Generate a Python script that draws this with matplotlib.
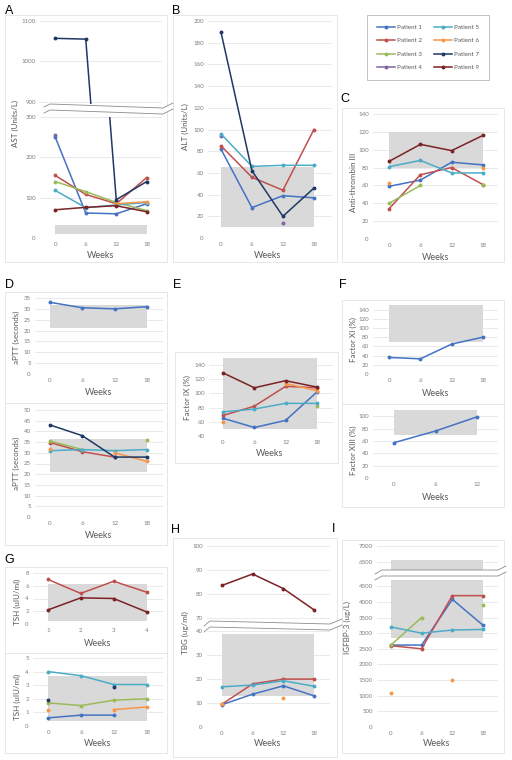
import numpy as np
import matplotlib
matplotlib.use('Agg')
import matplotlib.pyplot as plt
from matplotlib.lines import Line2D
from matplotlib.patches import Rectangle, Polygon

plt.rcParams['font.family'] = ['Lato', 'DejaVu Sans']

nan = np.nan
weeks = [0, 6, 12, 18]
weeks_xiii = [0, 6, 12]
tsh_x = [1, 2, 3, 4]

# A - AST (Units/L)
ast = {
    'Patient 1': [250, 62, 60, 85],
    'Patient 2': [155, 108, 85, 150],
    'Patient 3': [140, 115, 88, 68],
    'Patient 4': [255, nan, nan, nan],
    'Patient 5': [118, 75, 82, 88],
    'Patient 6': [nan, nan, 85, 90],
    'Patient 7': [1057, 1055, 95, 140],
    'Patient 9': [70, 76, 80, 65],
}
ast_range = [10, 33]

# B - ALT (Units/L)
alt = {
    'Patient 1': [82, 28, 39, 37],
    'Patient 2': [85, 56, 44, 100],
    'Patient 4': [94, nan, 14, nan],
    'Patient 5': [96, 66, 67, 67],
    'Patient 7': [190, 62, 20, 46],
}
alt_range = [10, 65]

# C - Anti-thrombin III
at3 = {
    'Patient 1': [59, 66, 86, 83],
    'Patient 2': [34, 72, 80, 61],
    'Patient 3': [40, 60, nan, 60],
    'Patient 5': [81, 88, 74, 74],
    'Patient 6': [63, nan, nan, 79],
    'Patient 9': [87, 106, 99, 116],
}
at3_range = [79, 120]

# D - aPTT (seconds)
aptt_top = {'Patient 1': [33, 30.5, 30, 31]}
aptt_bottom = {
    'Patient 2': [34.8, 30.5, 28, nan],
    'Patient 3': [35.5, 31.5, nan, 35.8],
    'Patient 5': [31, 31.5, 31, 31.5],
    'Patient 6': [32, nan, 30, 26],
    'Patient 7': [43, 38, 28, 28],
}
aptt_range = [21, 32]
aptt_range2 = [21, 36.5]

# E - Factor IX (%)
f9 = {
    'Patient 1': [65, 52, 62, 102],
    'Patient 2': [69, 82, 110, 108],
    'Patient 3': [nan, nan, nan, 83],
    'Patient 5': [74, 78, 86, 86],
    'Patient 6': [60, nan, 114, 104],
    'Patient 9': [129, 108, 118, 109],
}
f9_range = [50, 150]

# F - Factor XI / XIII (%)
f11 = {'Patient 1': [36, 33, 65, 80]}
f11_range = [70, 150]
f13 = {'Patient 1': [57, 76, 99]}
f13_range = [70, 110]

# G - TSH (uIU/ml)
tsh_top = {'Patient 2': [7, 4.8, 6.7, 5], 'Patient 9': [2.2, 4.1, 4, 1.9]}
tsh_range = [0.5, 6.3]
tsh_bottom = {
    'Patient 1': [0.6, 0.8, 0.8, nan],
    'Patient 3': [1.7, 1.5, 1.9, 2.0],
    'Patient 5': [4.0, 3.7, 3.05, 3.05],
    'Patient 6': [1.2, nan, 1.2, 1.4],
    'Patient 7': [1.9, nan, 2.9, nan],
}
tsh_range2 = [0.4, 3.7]

# H - TBG (ug/ml)
tbg = {
    'Patient 1': [9.3, 13.7, 17.2, 13],
    'Patient 2': [9.5, 18, 20, 20],
    'Patient 5': [16.8, 17.5, 19.3, 17],
    'Patient 6': [9.5, nan, 12, nan],
    'Patient 9': [83.5, 88.3, 82.2, 73.3],
}
tbg_range = [12.8, 39]

# I - IGFBP-3 (ug/L)
igfbp3 = {
    'Patient 1': [2620, 2620, 4080, 3250],
    'Patient 2': [2600, 2500, 4200, 4200],
    'Patient 3': [2620, 3500, nan, 3900],
    'Patient 5': [3200, 3000, 3100, 3120],
    'Patient 6': [1100, nan, 1500, nan],
}
igfbp3_range = [2850, 6550]

patients = ['Patient 1', 'Patient 2', 'Patient 3', 'Patient 4',
            'Patient 5', 'Patient 6', 'Patient 7', 'Patient 9']
colors = {
    'Patient 1': '#4472C4', 'Patient 2': '#C0504D', 'Patient 3': '#9BBB59',
    'Patient 4': '#8064A2', 'Patient 5': '#4BACC6', 'Patient 6': '#F79646',
    'Patient 7': '#1F3864', 'Patient 9': '#7B2226',
}

W, H = 512, 760
fig = plt.figure(figsize=(W / 100, H / 100), dpi=100)
fig.patch.set_facecolor('white')


def px_axes(x0, y0, x1, y1):
    return fig.add_axes([x0 / W, 1 - y1 / H, (x1 - x0) / W, (y1 - y0) / H])


def style(ax, xlim, ylim, yticks, xticks=weeks, xlabels=True):
    ax.set_xlim(xlim)
    ax.set_ylim(ylim)
    ax.set_yticks(yticks)
    ax.set_xticks(xticks)
    for s in ax.spines.values():
        s.set_visible(False)
    ax.tick_params(length=0, labelsize=4.4, colors='#7F7F7F', pad=3)
    ax.yaxis.grid(True, color='#E2E2E2', lw=0.5)
    ax.set_axisbelow(True)
    ax.patch.set_alpha(0)
    if not xlabels:
        ax.tick_params(labelbottom=False)


def plot_series(ax, x, data):
    for name, vals in data.items():
        ax.plot(x, vals, color=colors[name], lw=1.1, marker='o', ms=1.8, zorder=3)


def band(ax, x0, x1, rng):
    ax.fill_between([x0, x1], rng[0], rng[1], color='#D9D9D9', lw=0, zorder=1)


def box(x0, y0, x1, y1, ec='#E3E3E3'):
    fig.patches.append(Rectangle((x0 / W, 1 - y1 / H), (x1 - x0) / W, (y1 - y0) / H,
                                 transform=fig.transFigure, fill=False, ec=ec, lw=0.6))


def hline(x0, x1, y):
    fig.lines.append(Line2D([x0 / W, x1 / W], [1 - y / H, 1 - y / H],
                            transform=fig.transFigure, color='#E3E3E3', lw=0.6))


def brk(pts, off=6):
    up = [(x / W, 1 - y / H) for x, y in pts]
    lo = [(x / W, 1 - (y + off) / H) for x, y in pts]
    fig.patches.append(Polygon(up + lo[::-1], closed=True, transform=fig.transFigure,
                               fc='white', ec='none', zorder=10))
    for line in (up, lo):
        xs, ys = zip(*line)
        fig.lines.append(Line2D(xs, ys, transform=fig.transFigure, color='#8C8C8C',
                                lw=0.6, zorder=11))


def text(x, y, s, **kw):
    fig.text(x / W, 1 - y / H, s, ha='center', va='center', **kw)


def ylab(x, y, s):
    text(x, y, s, rotation=90, fontsize=5.8, color='#595959')


def xlab(x, y):
    text(x, y, 'Weeks', fontsize=6.5, color='#595959')


# panel frames
box(5, 15, 167, 262)
box(173, 15, 337, 262)
box(342, 108, 504, 262)
box(5, 292, 167, 545)
hline(5, 167, 403)
box(175, 352, 338, 463)
box(342, 300, 504, 507)
hline(342, 504, 404)
box(5, 567, 167, 753)
hline(5, 167, 653)
box(173, 538, 337, 757)
box(342, 540, 504, 753)

for lab, x, y in [('A', 9, 11), ('B', 176, 11), ('C', 345, 99), ('D', 9, 285),
                  ('E', 177, 285), ('F', 343, 285), ('G', 9, 560), ('H', 175, 530),
                  ('I', 334, 529)]:
    text(x, y, lab, fontsize=9, family='Liberation Sans')

# A
a1 = px_axes(40, 21, 162, 103.6)
style(a1, (-3, 21), (895, 1100), [900, 1000, 1100], xlabels=False)
plot_series(a1, weeks, ast)
a2 = px_axes(40, 117, 162, 238)
style(a2, (-3, 21), (0, 300), [0, 100, 200, 300])
band(a2, 0, 18, ast_range)
plot_series(a2, weeks, ast)
ylab(15, 123, 'AST (Units/L)')
xlab(101, 256)
brk([(44, 107), (50, 104), (163, 108), (173, 103)])

# B
b = px_axes(208, 21, 332, 238)
style(b, (-2.5, 21.5), (0, 200), range(0, 201, 20))
band(b, 0, 18, alt_range)
plot_series(b, weeks, alt)
ylab(185, 127, 'ALT (Units/L)')
xlab(268, 256)

# legend
handles = [Line2D([], [], color=colors[p], lw=1.1, marker='o', ms=1.8) for p in patients]
fig.legend(handles, patients, loc='center', bbox_to_anchor=(428 / W, 1 - 47.5 / H),
           ncol=2, fontsize=4.5, frameon=True, fancybox=False, edgecolor='#A6A6A6',
           handlelength=2.8, labelspacing=1.3, columnspacing=2.0, borderpad=1.6,
           handletextpad=0.3, labelcolor='#595959').get_frame().set_linewidth(0.6)

# C
c = px_axes(373, 114, 498, 239)
style(c, (-3.1, 20.9), (0, 140), range(0, 141, 20))
band(c, 0, 18, at3_range)
plot_series(c, weeks, at3)
ylab(353, 182, 'Anti-thrombin III')
xlab(436, 257)

# D
d1 = px_axes(35, 298, 163, 374)
style(d1, (-2.8, 21), (0, 35), range(0, 36, 5))
band(d1, 0, 18, aptt_range)
plot_series(d1, weeks, aptt_top)
ylab(16, 337, 'aPTT (seconds)')
xlab(99, 392)
d2 = px_axes(35, 410, 163, 517)
style(d2, (-2.8, 21), (0, 50), range(0, 51, 5))
band(d2, 0, 18, aptt_range2)
plot_series(d2, weeks, aptt_bottom)
ylab(16, 463, 'aPTT (seconds)')
xlab(99, 535)

# E
e = px_axes(209, 358, 333, 436)
style(e, (-2.7, 21.1), (40, 150), range(40, 141, 20))
band(e, 0, 18, f9_range)
plot_series(e, weeks, f9)
ylab(187, 397, 'Factor IX (%)')
xlab(270, 453)

# F
f1 = px_axes(373, 305, 498, 374)
style(f1, (-3.1, 20.9), (0, 150), range(0, 141, 20))
band(f1, 0, 18, f11_range)
plot_series(f1, weeks, f11)
ylab(353, 339, 'Factor XI (%)')
xlab(436, 393)
f2 = px_axes(373, 410, 498, 478)
style(f2, (-3, 15), (0, 110), range(0, 101, 20), xticks=weeks_xiii)
band(f2, 0, 12, f13_range)
plot_series(f2, weeks_xiii, f13)
ylab(353, 450, 'Factor XIII (%)')
xlab(436, 497)

# G
g1 = px_axes(33, 573, 163, 624)
style(g1, (0.55, 4.5), (0, 8), range(0, 9, 2), xticks=tsh_x)
band(g1, 1, 4, tsh_range)
plot_series(g1, tsh_x, tsh_top)
ylab(17, 602, 'TSH (uIU/ml)')
xlab(98, 643)
g2 = px_axes(33, 658, 163, 726)
style(g2, (-2.8, 21), (0, 5), range(0, 6))
band(g2, 0, 18, tsh_range2)
plot_series(g2, weeks, tsh_bottom)
ylab(17, 697, 'TSH (uIU/ml)')
xlab(98, 743)

# H
h1 = px_axes(207, 546, 330, 619)
style(h1, (-2.9, 21.1), (69.5, 100), [70, 80, 90, 100], xlabels=False)
plot_series(h1, weeks, tbg)
h2 = px_axes(207, 630, 330, 727)
style(h2, (-2.9, 21.1), (0, 40.5), range(0, 41, 10))
band(h2, 0, 18, tbg_range)
plot_series(h2, weeks, tbg)
ylab(185, 633, 'TBG (ug/ml)')
xlab(268, 744)
brk([(204, 626), (210, 621), (330, 624), (342, 619)])

# I
i1 = px_axes(377, 546, 498, 573)
style(i1, (-2.7, 20.9), (6150, 7000), [6500, 7000], xlabels=False)
band(i1, 0, 18, igfbp3_range)
plot_series(i1, weeks, igfbp3)
i2 = px_axes(377, 580, 498, 727)
style(i2, (-2.7, 20.9), (0, 4700), range(0, 4501, 500))
band(i2, 0, 18, igfbp3_range)
plot_series(i2, weeks, igfbp3)
ylab(347, 627, 'IGFBP-3 (ug/L)')
xlab(437, 744)
brk([(375, 574), (382, 570), (498, 570), (506, 566)])

fig.savefig('out.png', dpi=100)
